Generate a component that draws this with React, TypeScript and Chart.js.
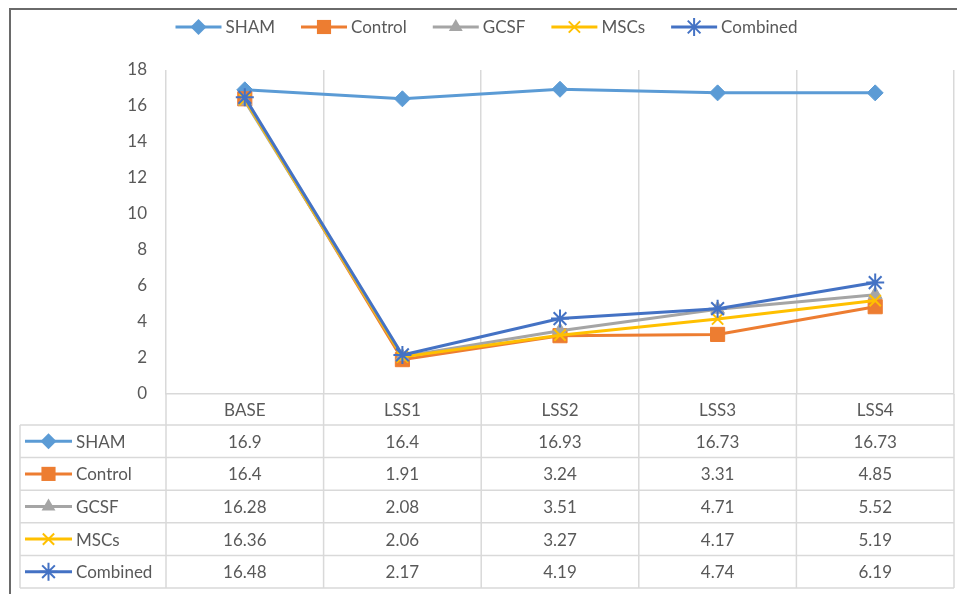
import React, { useEffect, useRef } from 'react';
import { Chart, registerables } from 'chart.js';

Chart.register(...registerables);

const categories = ['BASE', 'LSS1', 'LSS2', 'LSS3', 'LSS4'];
const seriesNames = ['SHAM', 'Control', 'GCSF', 'MSCs', 'Combined'];
const sham = [16.9, 16.4, 16.93, 16.73, 16.73];
const control = [16.4, 1.91, 3.24, 3.31, 4.85];
const gcsf = [16.28, 2.08, 3.51, 4.71, 5.52];
const mscs = [16.36, 2.06, 3.27, 4.17, 5.19];
const combined = [16.48, 2.17, 4.19, 4.74, 6.19];
const yMin = 0;
const yMax = 18;
const yStep = 2;

const seriesValues = [sham, control, gcsf, mscs, combined];
const colors = ['#5B9BD5', '#ED7D31', '#A5A5A5', '#FFC000', '#4472C4'];
const markers = ['rectRot', 'rect', 'triangle', 'crossRot', 'star'];
const radii = [8, 10, 8, 8, 9];

const FONT_FAMILY = 'Lato, "Open Sans", sans-serif';
const FONT_SIZE = 17;
const TEXT_COLOR = '#595959';
const GRID_COLOR = '#D9D9D9';

function drawMarker(ctx: CanvasRenderingContext2D, style: string, x: number, y: number, r: number, color: string) {
  ctx.save();
  ctx.fillStyle = color;
  ctx.strokeStyle = color;
  ctx.lineWidth = 2;
  ctx.beginPath();
  if (style === 'rectRot') {
    ctx.moveTo(x, y - r);
    ctx.lineTo(x + r, y);
    ctx.lineTo(x, y + r);
    ctx.lineTo(x - r, y);
    ctx.closePath();
    ctx.fill();
  } else if (style === 'rect') {
    const s = r * Math.SQRT1_2;
    ctx.rect(x - s, y - s, 2 * s, 2 * s);
    ctx.fill();
  } else if (style === 'triangle') {
    ctx.moveTo(x, y - r);
    ctx.lineTo(x + r * 0.866, y + r * 0.5);
    ctx.lineTo(x - r * 0.866, y + r * 0.5);
    ctx.closePath();
    ctx.fill();
  } else if (style === 'crossRot') {
    const d = r * Math.SQRT1_2;
    ctx.moveTo(x - d, y - d);
    ctx.lineTo(x + d, y + d);
    ctx.moveTo(x - d, y + d);
    ctx.lineTo(x + d, y - d);
    ctx.stroke();
  } else if (style === 'star') {
    const d = r * Math.SQRT1_2;
    ctx.moveTo(x, y - r);
    ctx.lineTo(x, y + r);
    ctx.moveTo(x - r, y);
    ctx.lineTo(x + r, y);
    ctx.moveTo(x - d, y - d);
    ctx.lineTo(x + d, y + d);
    ctx.moveTo(x - d, y + d);
    ctx.lineTo(x + d, y - d);
    ctx.stroke();
  }
  ctx.restore();
}

function drawIcon(ctx: CanvasRenderingContext2D, i: number, x: number, y: number, len: number) {
  ctx.save();
  ctx.strokeStyle = colors[i];
  ctx.lineWidth = 3;
  ctx.beginPath();
  ctx.moveTo(x, y);
  ctx.lineTo(x + len, y);
  ctx.stroke();
  ctx.restore();
  drawMarker(ctx, markers[i], x + len / 2, y, radii[i], colors[i]);
}

const decorPlugin = {
  id: 'decor',
  afterDraw(chart: any) {
    const ctx: CanvasRenderingContext2D = chart.ctx;
    const area = chart.chartArea;
    const xs = chart.scales.x;
    const W = chart.width;
    ctx.save();

    // frame
    ctx.fillStyle = '#6A6A6A';
    ctx.fillRect(1, 0, W - 1, 2);
    ctx.fillRect(1, 0, 2, chart.height);

    ctx.font = `${FONT_SIZE}px ${FONT_FAMILY}`;
    ctx.fillStyle = TEXT_COLOR;
    ctx.textBaseline = 'middle';

    // legend
    const iconLen = 46;
    const gapText = 4;
    const gapItem = 26;
    const widths = seriesNames.map((n) => ctx.measureText(n).width);
    const total = widths.reduce((a, b) => a + iconLen + gapText + b, 0) + gapItem * (seriesNames.length - 1);
    let lx = W / 2 - total / 2;
    const ly = 19;
    seriesNames.forEach((n, i) => {
      drawIcon(ctx, i, lx, ly, iconLen);
      ctx.fillStyle = TEXT_COLOR;
      ctx.textAlign = 'left';
      ctx.fillText(n, lx + iconLen + gapText, ly + 1);
      lx += iconLen + gapText + widths[i] + gapItem;
    });

    // data table
    const n = categories.length;
    const catW = (area.right - area.left) / n;
    const headTop = area.bottom;
    const headH = 31;
    const rowH = 32.6;
    const tableLeft = 12;
    const rowsTop = headTop + headH;
    const tableBottom = rowsTop + rowH * seriesNames.length;

    ctx.strokeStyle = GRID_COLOR;
    ctx.lineWidth = 1.5;
    ctx.beginPath();
    for (let k = 0; k <= seriesNames.length; k++) {
      const yy = rowsTop + k * rowH;
      ctx.moveTo(tableLeft, yy);
      ctx.lineTo(area.right, yy);
    }
    for (let k = 0; k <= n; k++) {
      const xx = Math.min(area.left + k * catW, W - 1);
      ctx.moveTo(xx, headTop);
      ctx.lineTo(xx, tableBottom);
    }
    ctx.moveTo(tableLeft, rowsTop);
    ctx.lineTo(tableLeft, tableBottom);
    ctx.stroke();

    ctx.fillStyle = TEXT_COLOR;
    ctx.textAlign = 'center';
    categories.forEach((c, j) => {
      ctx.fillText(c, xs.getPixelForValue(j), headTop + headH / 2 + 1);
    });
    seriesNames.forEach((name, i) => {
      const cy = rowsTop + rowH * i + rowH / 2;
      drawIcon(ctx, i, tableLeft + 5, cy, 47);
      ctx.fillStyle = TEXT_COLOR;
      ctx.textAlign = 'left';
      ctx.fillText(name, tableLeft + 5 + 47 + 4, cy + 1);
      ctx.textAlign = 'center';
      seriesValues[i].forEach((v, j) => {
        ctx.fillText(String(v), xs.getPixelForValue(j), cy + 1);
      });
    });
    ctx.restore();
  },
};

export default function App() {
  const ref = useRef<HTMLCanvasElement | null>(null);
  useEffect(() => {
    if (!ref.current) return;
    const datasets = seriesNames.map((name, i) => ({
      label: name,
      data: seriesValues[i],
      borderColor: colors[i],
      backgroundColor: colors[i],
      borderWidth: 3,
      pointStyle: markers[i] as any,
      pointRadius: radii[i],
      pointHoverRadius: radii[i],
      pointBackgroundColor: colors[i],
      pointBorderColor: colors[i],
      pointBorderWidth: markers[i] === 'crossRot' || markers[i] === 'star' ? 2 : 1,
      tension: 0,
      order: seriesNames.length - i,
      clip: false as any,
    }));
    const chart = new Chart(ref.current, {
      type: 'line',
      data: { labels: categories, datasets },
      options: {
        animation: false,
        responsive: false,
        devicePixelRatio: 1,
        layout: { padding: { top: 62, left: 0, right: 0, bottom: 0 } },
        plugins: { legend: { display: false }, tooltip: { enabled: false } },
        scales: {
          x: {
            type: 'category',
            offset: true,
            grid: { display: true, offset: true, color: GRID_COLOR, lineWidth: 1.5, drawTicks: false },
            border: { display: true, color: GRID_COLOR, width: 1.5 },
            ticks: { display: false },
            afterFit: (s: any) => {
              s.height = 200;
            },
          },
          y: {
            min: yMin,
            max: yMax,
            grid: { display: false },
            border: { display: false },
            ticks: {
              stepSize: yStep,
              padding: 11,
              color: TEXT_COLOR,
              font: { family: FONT_FAMILY, size: FONT_SIZE },
            },
            afterFit: (s: any) => {
              s.width = 158;
            },
          },
        },
      },
      plugins: [decorPlugin],
    });
    return () => chart.destroy();
  }, []);
  return (
    <div style={{ width: 957, height: 586 }}>
      <canvas ref={ref} width={957} height={586} style={{ display: 'block', width: 957, height: 586 }} />
    </div>
  );
}
